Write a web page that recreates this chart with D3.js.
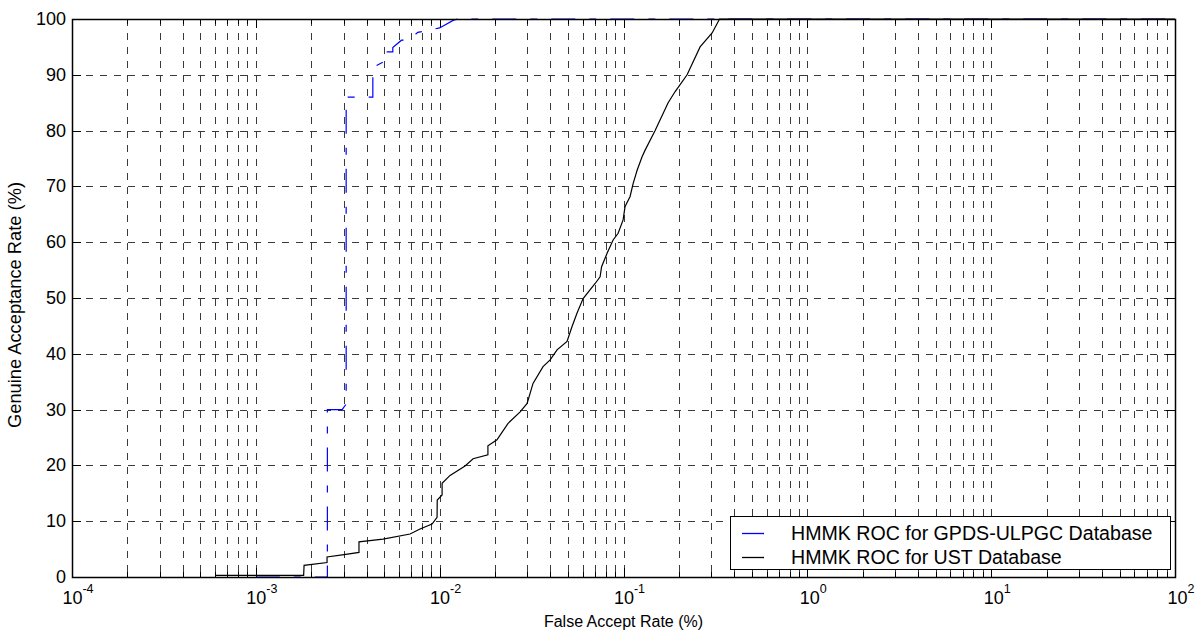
<!DOCTYPE html>
<html><head><meta charset="utf-8">
<script src="https://cdn.jsdelivr.net/npm/d3@7"></script>
<style>body{margin:0;background:#fff}svg{display:block;font-family:"Liberation Sans",Arial,sans-serif}</style>
</head><body><svg id="c" width="1199" height="631"></svg>
<script>
// ---- data ----
const seriesNames = ["HMMK ROC for GPDS-ULPGC Database", "HMMK ROC for UST Database"];
const gpdsFar = [1e-3,2.45e-3,2.45e-3,2.95e-3,3.1e-3,3.1e-3,4.33e-3,4.33e-3,4.94e-3,4.94e-3,5.56e-3,5.56e-3,6.2e-3,6.8e-3,7.6e-3,1.0e-2,1.05e-2,1.19e-2,1.25e-2,100];
const gpdsGar = [0,0,30,30,31,86,86,91.3,92.3,94.1,94.1,94.9,96.2,96.3,97.6,98.4,98.8,99.8,100,100];
const ustFar = [6.07e-4,1.82e-3,1.83e-3,2.44e-3,2.44e-3,3.02e-3,3.64e-3,3.64e-3,4.92e-3,6.9e-3,7.82e-3,9.09e-3,9.68e-3,9.7e-3,1.031e-2,1.031e-2,1.139e-2,1.374e-2,1.52e-2,1.83e-2,1.83e-2,2.05e-2,2.35e-2,2.74e-2,2.99e-2,3.22e-2,3.65e-2,3.99e-2,4.35e-2,4.93e-2,5.25e-2,5.59e-2,6.03e-2,7.01e-2,7.46e-2,7.6e-2,8.14e-2,8.78e-2,9.35e-2,9.95e-2,0.102,0.1086,0.1128,0.1186,0.1262,0.1311,0.1486,0.1749,0.191,0.2218,0.261,0.3034,0.333,100];
const ustGar = [0.3,0.3,2.1,2.6,3.6,4.0,4.4,6.3,6.8,7.7,8.6,9.5,10.7,13.8,14.7,16.8,18.2,19.9,21.2,21.9,23.5,24.6,27.5,29.6,31.1,34.7,37.7,38.9,40.7,42.2,44.9,47.3,49.9,52.6,53.8,55.6,58.0,60.4,61.6,64.0,66.4,68.2,70.5,72.9,75.3,76.5,80,85,87,90,95,97.5,100,100];
const xMajorExp = [-4,-3,-2,-1,0,1,2];
const yTicks = [0,10,20,30,40,50,60,70,80,90,100];
const xTitle = "False Accept Rate (%)";
const yTitle = "Genuine Acceptance Rate (%)";

// ---- layout ----
const L = 72, R = 1175, T = 19, B = 577;
const svg = d3.select("#c");
const x = d3.scaleLog().domain([1e-4, 1e2]).range([L, R]);
const y = d3.scaleLinear().domain([0, 100]).range([B, T]);

const minor = [];
for (let e = -4; e < 2; e++) for (let m = 2; m <= 9; m++) minor.push(m * Math.pow(10, e));
const majors = xMajorExp.map(e => Math.pow(10, e));

const grid = svg.append("g").attr("stroke", "#3a3a3a").attr("stroke-width", 1).attr("stroke-dasharray", "7,7").attr("fill", "none");
minor.concat(majors.slice(1, -1)).forEach(v => {
  const px = Math.round(x(v)) + 0.5;
  grid.append("line").attr("x1", px).attr("x2", px).attr("y1", T).attr("y2", B);
});
yTicks.slice(1, -1).forEach(v => {
  const py = Math.round(y(v)) + 0.5;
  grid.append("line").attr("x1", L).attr("x2", R).attr("y1", py).attr("y2", py);
});

// ticks (inward)
const tk = svg.append("g").attr("stroke", "#000").attr("stroke-width", 1);
minor.forEach(v => {
  const px = Math.round(x(v)) + 0.5;
  tk.append("line").attr("x1", px).attr("x2", px).attr("y1", B).attr("y2", B - 5);
  tk.append("line").attr("x1", px).attr("x2", px).attr("y1", T).attr("y2", T + 5);
});
majors.forEach(v => {
  const px = Math.round(x(v)) + 0.5;
  tk.append("line").attr("x1", px).attr("x2", px).attr("y1", B).attr("y2", B - 9);
  tk.append("line").attr("x1", px).attr("x2", px).attr("y1", T).attr("y2", T + 9);
});
yTicks.forEach(v => {
  const py = Math.round(y(v)) + 0.5;
  tk.append("line").attr("x1", L).attr("x2", L + 9).attr("y1", py).attr("y2", py);
  tk.append("line").attr("x1", R).attr("x2", R - 9).attr("y1", py).attr("y2", py);
});

// lines
const line = d3.line().x(d => x(d[0])).y(d => y(d[1]));
svg.append("path").datum(gpdsFar.map((v, i) => [v, gpdsGar[i]]))
  .attr("d", line).attr("fill", "none").attr("stroke", "#0000ff").attr("stroke-width", 1.2)
  .attr("stroke-dasharray", "24,14,7,14");
svg.append("path").datum(ustFar.map((v, i) => [v, ustGar[i]]))
  .attr("d", line).attr("fill", "none").attr("stroke", "#000").attr("stroke-width", 1.2);

// axes box
svg.append("rect").attr("x", L + 0.5).attr("y", T + 0.5).attr("width", R - L).attr("height", B - T)
  .attr("fill", "none").attr("stroke", "#000").attr("stroke-width", 1.5);

// tick labels
const lab = svg.append("g").attr("fill", "#000").attr("font-size", 18);
yTicks.forEach(v => {
  lab.append("text").attr("x", L - 6).attr("y", y(v) + 6).attr("text-anchor", "end").text(v);
});
xMajorExp.forEach(e => {
  const t = lab.append("text").attr("x", x(Math.pow(10, e)) + 6).attr("y", 604).attr("text-anchor", "middle");
  t.append("tspan").text("10");
  t.append("tspan").attr("dy", -11).attr("font-size", 12.5).text(e);
});

// titles
svg.append("text").attr("x", (L + R) / 2).attr("y", 627).attr("text-anchor", "middle").attr("font-size", 16).text(xTitle);
svg.append("text").attr("transform", `translate(21,${(T + B) / 2 + 7}) rotate(-90)`).attr("text-anchor", "middle").attr("font-size", 18.3).text(yTitle);

// legend
const lg = svg.append("g");
lg.append("rect").attr("x", 730.5).attr("y", 516.5).attr("width", 440).attr("height", 53).attr("fill", "#fff").attr("stroke", "#000").attr("stroke-width", 1);
const colors = ["#0000ff", "#000"];
seriesNames.forEach((n, i) => {
  const yy = 533 + i * 24;
  lg.append("line").attr("x1", 742).attr("x2", 764).attr("y1", yy + 0.5).attr("y2", yy + 0.5).attr("stroke", colors[i]).attr("stroke-width", 1.3);
  lg.append("text").attr("x", 791).attr("y", yy + 7).attr("font-size", 19.6).text(n);
});
</script></body></html>
